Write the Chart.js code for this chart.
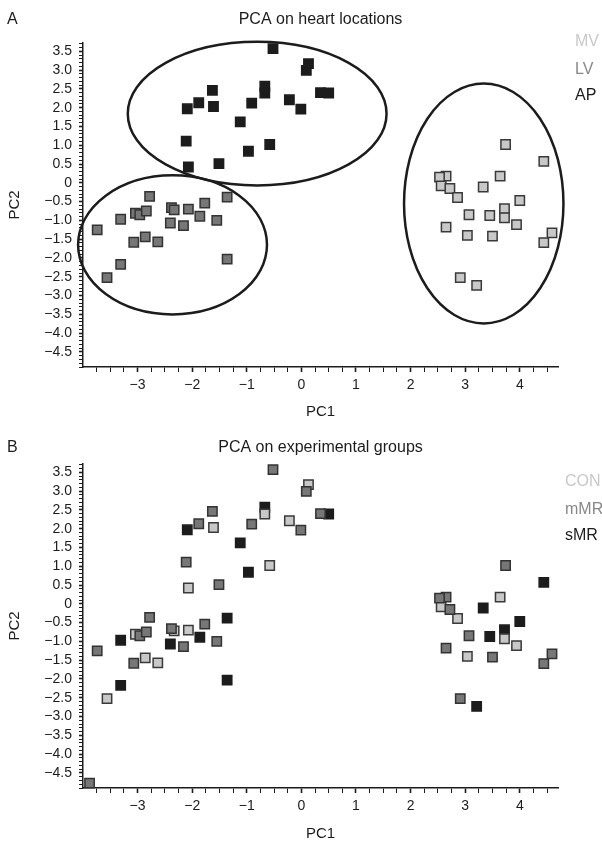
<!DOCTYPE html>
<html>
<head>
<meta charset="utf-8">
<title>PCA on heart locations / experimental groups</title>
<script src="https://cdn.jsdelivr.net/npm/chart.js@4.4.1/dist/chart.umd.min.js"></script>
<style>
  html, body { margin: 0; padding: 0; background: #fff; }
  .panel { position: absolute; left: 0; width: 602px; }
  #panelA { top: 0; height: 421px; }
  #panelB { top: 421px; height: 422px; }
</style>
</head>
<body>
<div class="panel" id="panelA"><canvas id="chartA" width="602" height="421"></canvas></div>
<div class="panel" id="panelB"><canvas id="chartB" width="602" height="422"></canvas></div>
<script>
// --- Panel A: heart locations ---
const mvX = [3.74, 4.44, 2.65, 2.53, 3.64, 2.56, 2.72, 3.33, 2.86, 4.00, 3.07, 3.45, 3.72, 3.72, 3.94, 2.65, 3.04, 3.50, 4.59, 4.44, 2.91, 3.21];
const mvY = [1.02, 0.57, 0.18, 0.15, 0.18, -0.08, -0.15, -0.11, -0.39, -0.47, -0.85, -0.87, -0.69, -0.93, -1.11, -1.18, -1.40, -1.42, -1.33, -1.59, -2.52, -2.73];

const lvX = [-2.78, -1.36, -3.31, -3.04, -2.96, -2.84, -2.38, -2.33, -2.07, -1.77, -1.86, -1.55, -2.40, -2.16, -3.74, -3.07, -2.86, -2.63, -3.31, -3.56, -1.36];
const lvY = [-0.36, -0.38, -0.97, -0.81, -0.85, -0.75, -0.66, -0.72, -0.70, -0.54, -0.89, -1.00, -1.07, -1.14, -1.25, -1.58, -1.44, -1.57, -2.17, -2.52, -2.03];

const apX = [-0.52, -2.09, -1.88, -1.63, -1.61, -1.12, -0.91, -0.67, -0.67, -0.22, -0.01, -2.11, -0.97, -0.58, -2.07, -1.51, 0.13, 0.09, 0.35, 0.50];
const apY = [3.57, 1.97, 2.13, 2.46, 2.03, 1.62, 2.12, 2.57, 2.39, 2.21, 1.96, 1.11, 0.84, 1.02, 0.42, 0.51, 3.17, 2.99, 2.40, 2.39];

// cluster ellipses (centre and radii in PC units)
const ellCx = [-0.81, -2.36, 3.34];
const ellCy = [1.84, -1.65, -0.55];
const ellRx = [2.37, 1.73, 1.46];
const ellRy = [1.91, 1.85, 3.19];

// --- Panel B: experimental groups ---
const conX = [-1.61, -0.67, -0.22, -0.58, -2.07, 0.13, -3.04, -2.33, -2.07, -2.86, -2.63, -3.56, 3.64, 2.56, 2.86, 3.72, 3.94, 3.04];
const conY = [2.03, 2.39, 2.21, 1.02, 0.42, 3.17, -0.81, -0.72, -0.70, -1.44, -1.57, -2.52, 0.18, -0.08, -0.39, -0.93, -1.11, -1.40];

const mmrX = [-0.52, -1.88, -1.63, -0.91, -0.01, -2.11, -1.51, 0.09, 0.35, -2.78, -2.96, -2.84, -2.38, -1.77, -1.55, -2.16, -3.74, -3.07, -3.88, 3.74, 2.65, 2.53, 2.72, 3.07, 2.65, 3.50, 4.59, 4.44, 2.91];
const mmrY = [3.57, 2.13, 2.46, 2.12, 1.96, 1.11, 0.51, 2.99, 2.40, -0.36, -0.85, -0.75, -0.66, -0.54, -1.00, -1.14, -1.25, -1.58, -4.77, 1.02, 0.18, 0.15, -0.15, -0.85, -1.18, -1.42, -1.33, -1.59, -2.52];

const smrX = [-2.09, -1.12, -0.67, -0.97, 0.50, -1.36, -3.31, -1.86, -2.40, -3.31, -1.36, 4.44, 3.33, 4.00, 3.45, 3.72, 3.21];
const smrY = [1.97, 1.62, 2.57, 0.84, 2.39, -0.38, -0.97, -0.89, -1.07, -2.17, -2.03, 0.57, -0.11, -0.47, -0.87, -0.69, -2.73];

// axis ranges and labelled ticks
const xMin = -4, xMax = 4.7;
const yMin = -4.9, yMax = 3.72;
const xTickLabels = [-3, -2, -1, 0, 1, 2, 3, 4];
const yTickLabels = [3.5, 3.0, 2.5, 2.0, 1.5, 1.0, 0.5, 0, -0.5, -1.0, -1.5, -2.0, -2.5, -3.0, -3.5, -4.0, -4.5];

const INK = '#1c1c1c';
const LIGHT = '#c8c8c8';
const MID = '#777777';

Chart.defaults.font.family = "'Liberation Sans', Arial, Helvetica, sans-serif";
Chart.defaults.color = INK;

function toPoints(xs, ys) {
    return xs.map((x, i) => ({ x: x, y: ys[i] }));
}

function hasLabel(list, v) {
    return list.some(l => Math.abs(l - v) < 1e-6);
}

function fmtX(v) {
    return (v < 0 ? '\u2212' : '') + Math.abs(v).toFixed(0);
}

function fmtY(v) {
    if (Math.abs(v) < 1e-6) return '0';
    return (v < 0 ? '\u2212' : '') + Math.abs(v).toFixed(1);
}

function squareSet(label, pts, fill, border) {
    return {
        label: label,
        data: pts,
        pointStyle: 'rect',
        pointRadius: 6.6,
        pointHoverRadius: 6.6,
        backgroundColor: fill,
        borderColor: border,
        pointBorderWidth: 1.5,
        clip: false
    };
}

// ellipses drawn through the chart's scales
function ellipsePlugin(cx, cy, rx, ry) {
    return {
        id: 'ellipses',
        beforeDatasetsDraw(chart) {
            const { ctx, scales: { x, y } } = chart;
            ctx.save();
            ctx.lineWidth = 2.5;
            ctx.strokeStyle = INK;
            cx.forEach((c, i) => {
                const px = x.getPixelForValue(c);
                const py = y.getPixelForValue(cy[i]);
                const prx = Math.abs(x.getPixelForValue(c + rx[i]) - px);
                const pry = Math.abs(y.getPixelForValue(cy[i] + ry[i]) - py);
                ctx.beginPath();
                ctx.ellipse(px, py, prx, pry, 0, 0, Math.PI * 2);
                ctx.stroke();
            });
            ctx.restore();
        }
    };
}

// panel letter, title and the text-only legend
function headerPlugin(letter, title, titleY, names, colors, legX, legYs) {
    return {
        id: 'header',
        afterDraw(chart) {
            const { ctx, chartArea } = chart;
            ctx.save();
            ctx.font = "16px 'Liberation Sans', Arial, sans-serif";
            ctx.textBaseline = 'middle';
            ctx.fillStyle = INK;
            ctx.textAlign = 'left';
            ctx.fillText(letter, 7, titleY);
            ctx.textAlign = 'center';
            ctx.fillText(title, (chartArea.left + chartArea.right) / 2, titleY);
            ctx.textAlign = 'left';
            names.forEach((n, i) => {
                ctx.fillStyle = colors[i];
                ctx.fillText(n, legX, legYs[i]);
            });
            ctx.restore();
        }
    };
}

function buildScales(xAxisHeight) {
    return {
        x: {
            type: 'linear',
            min: xMin,
            max: xMax,
            afterBuildTicks: (s) => {
                const t = [];
                for (let i = -15; i <= 18; i++) t.push({ value: i * 0.25 });
                s.ticks = t;
            },
            afterFit: (s) => { s.height = xAxisHeight; },
            grid: {
                drawOnChartArea: false,
                drawTicks: true,
                tickLength: 5,
                tickColor: INK,
                tickWidth: (c) => (c.tick && hasLabel(xTickLabels, c.tick.value) ? 1.6 : 1)
            },
            border: { display: true, color: INK, width: 1.5 },
            ticks: {
                autoSkip: false,
                maxRotation: 0,
                padding: 5,
                color: INK,
                font: { size: 14 },
                callback: (v) => (hasLabel(xTickLabels, v) ? fmtX(v) : '')
            },
            title: { display: true, text: 'PC1', color: INK, font: { size: 15 }, padding: { top: 0, bottom: 0 } }
        },
        y: {
            type: 'linear',
            min: yMin,
            max: yMax,
            afterBuildTicks: (s) => {
                const t = [];
                for (let i = -49; i <= 37; i++) t.push({ value: i / 10 });
                s.ticks = t;
            },
            afterFit: (s) => { s.width = 83; },
            grid: {
                drawOnChartArea: false,
                drawTicks: true,
                tickLength: 4,
                tickColor: INK,
                tickWidth: (c) => (c.tick && hasLabel(yTickLabels, c.tick.value) ? 1.6 : 1)
            },
            border: { display: true, color: INK, width: 1.5 },
            ticks: {
                autoSkip: false,
                padding: 7,
                color: INK,
                font: { size: 14 },
                callback: (v) => (hasLabel(yTickLabels, v) ? fmtY(v) : '')
            },
            title: { display: true, text: 'PC2', color: INK, font: { size: 15 }, padding: { top: 6, bottom: 0 } }
        }
    };
}

function baseOptions(xAxisHeight) {
    return {
        responsive: false,
        animation: false,
        layout: { padding: { top: 43, right: 44, left: 0, bottom: 0 } },
        plugins: { legend: { display: false }, tooltip: { enabled: false } },
        scales: buildScales(xAxisHeight)
    };
}

// 📊 Panel A
new Chart(document.getElementById('chartA').getContext('2d'), {
    type: 'scatter',
    data: {
        datasets: [
            squareSet('AP', toPoints(apX, apY), INK, INK),
            squareSet('LV', toPoints(lvX, lvY), MID, '#333333'),
            squareSet('MV', toPoints(mvX, mvY), LIGHT, '#3a3a3a')
        ]
    },
    options: baseOptions(54),
    plugins: [
        ellipsePlugin(ellCx, ellCy, ellRx, ellRy),
        headerPlugin('A', 'PCA on heart locations', 19.5, ['MV', 'LV', 'AP'], [LIGHT, '#888888', INK], 575, [41.7, 70, 96])
    ]
});

// 📊 Panel B
new Chart(document.getElementById('chartB').getContext('2d'), {
    type: 'scatter',
    data: {
        datasets: [
            squareSet('mMR', toPoints(mmrX, mmrY), MID, '#333333'),
            squareSet('CON', toPoints(conX, conY), LIGHT, '#3a3a3a'),
            squareSet('sMR', toPoints(smrX, smrY), INK, INK)
        ]
    },
    options: baseOptions(55),
    plugins: [
        headerPlugin('B', 'PCA on experimental groups', 26.5, ['CON', 'mMR', 'sMR'], [LIGHT, '#888888', INK], 565, [60.5, 89, 115])
    ]
});
</script>
</body>
</html>
